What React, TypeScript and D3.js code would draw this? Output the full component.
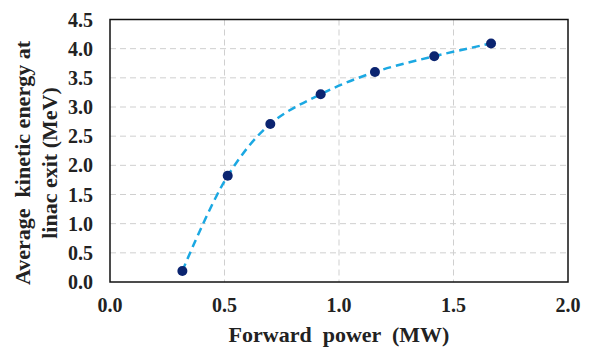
import React from "react";
import * as d3 from "d3";

// forward power (MW) vs average kinetic energy (MeV)
const powerMW = [0.316, 0.514, 0.7, 0.92, 1.157, 1.416, 1.664];
const energyMeV = [0.19, 1.82, 2.71, 3.22, 3.6, 3.87, 4.09];
const xTicks = [0, 0.5, 1.0, 1.5, 2.0];
const yTicks = [0, 0.5, 1.0, 1.5, 2.0, 2.5, 3.0, 3.5, 4.0, 4.5];

const W = 596;
const H = 352;
const left = 110;
const right = 568;
const top = 19.5;
const bottom = 282;

const FONT = '"Liberation Serif", "Times New Roman", serif';

const App = () => {
  const x = d3.scaleLinear().domain([0, 2]).range([left, right]);
  const y = d3.scaleLinear().domain([0, 4.5]).range([bottom, top]);

  const pts = powerMW.map((p, i) => [p, energyMeV[i]] as [number, number]);
  const line = d3
    .line<[number, number]>()
    .x((d) => x(d[0]))
    .y((d) => y(d[1]))
    .curve(d3.curveCatmullRom.alpha(0.5));

  const txt = { fontFamily: FONT, fontWeight: 700, whiteSpace: "pre" as const };

  return (
    <svg
      width={W}
      height={H}
      style={{ position: "absolute", left: 0, top: 0, background: "#fff" }}
    >
      {/* grid */}
      {yTicks.slice(1, -1).map((t) => (
        <line
          key={"gy" + t}
          x1={left}
          x2={right}
          y1={y(t)}
          y2={y(t)}
          stroke="#cfcfcf"
          strokeWidth={1}
          strokeDasharray="6,4"
        />
      ))}
      {xTicks.slice(1, -1).map((t) => (
        <line
          key={"gx" + t}
          x1={x(t)}
          x2={x(t)}
          y1={top}
          y2={bottom}
          stroke="#cfcfcf"
          strokeWidth={1}
          strokeDasharray="6,4"
        />
      ))}

      {/* fitted curve */}
      <path
        d={line(pts) || ""}
        fill="none"
        stroke="#1ba8e2"
        strokeWidth={2.5}
        strokeDasharray="8,5"
      />

      {/* points */}
      {pts.map((d, i) => (
        <circle key={i} cx={x(d[0])} cy={y(d[1])} r={5} fill="#0b2470" />
      ))}

      {/* frame */}
      <rect
        x={left}
        y={top}
        width={right - left}
        height={bottom - top}
        fill="none"
        stroke="#111"
        strokeWidth={1.5}
      />

      {/* tick labels */}
      {yTicks.map((t) => (
        <text
          key={"ty" + t}
          x={93}
          y={y(t)}
          dy="0.35em"
          textAnchor="end"
          fontSize={20}
          fill="#222"
          style={txt}
        >
          {d3.format(".1f")(t)}
        </text>
      ))}
      {xTicks.map((t) => (
        <text
          key={"tx" + t}
          x={x(t)}
          y={312}
          textAnchor="middle"
          fontSize={20}
          fill="#222"
          style={txt}
        >
          {d3.format(".1f")(t)}
        </text>
      ))}

      {/* axis titles */}
      <text
        x={(left + right) / 2}
        y={342}
        textAnchor="middle"
        fontSize={22}
        fill="#222"
        style={txt}
      >
        Forward  power  (MW)
      </text>
      <g transform="translate(22,163) rotate(-90)">
        <text x={0} y={0} dy="0.35em" textAnchor="middle" fontSize={22} fill="#222" style={txt}>
          Average  kinetic energy at
        </text>
        <text x={0} y={27} dy="0.35em" textAnchor="middle" fontSize={22} fill="#222" style={txt}>
          linac exit (MeV)
        </text>
      </g>
    </svg>
  );
};

export default App;
